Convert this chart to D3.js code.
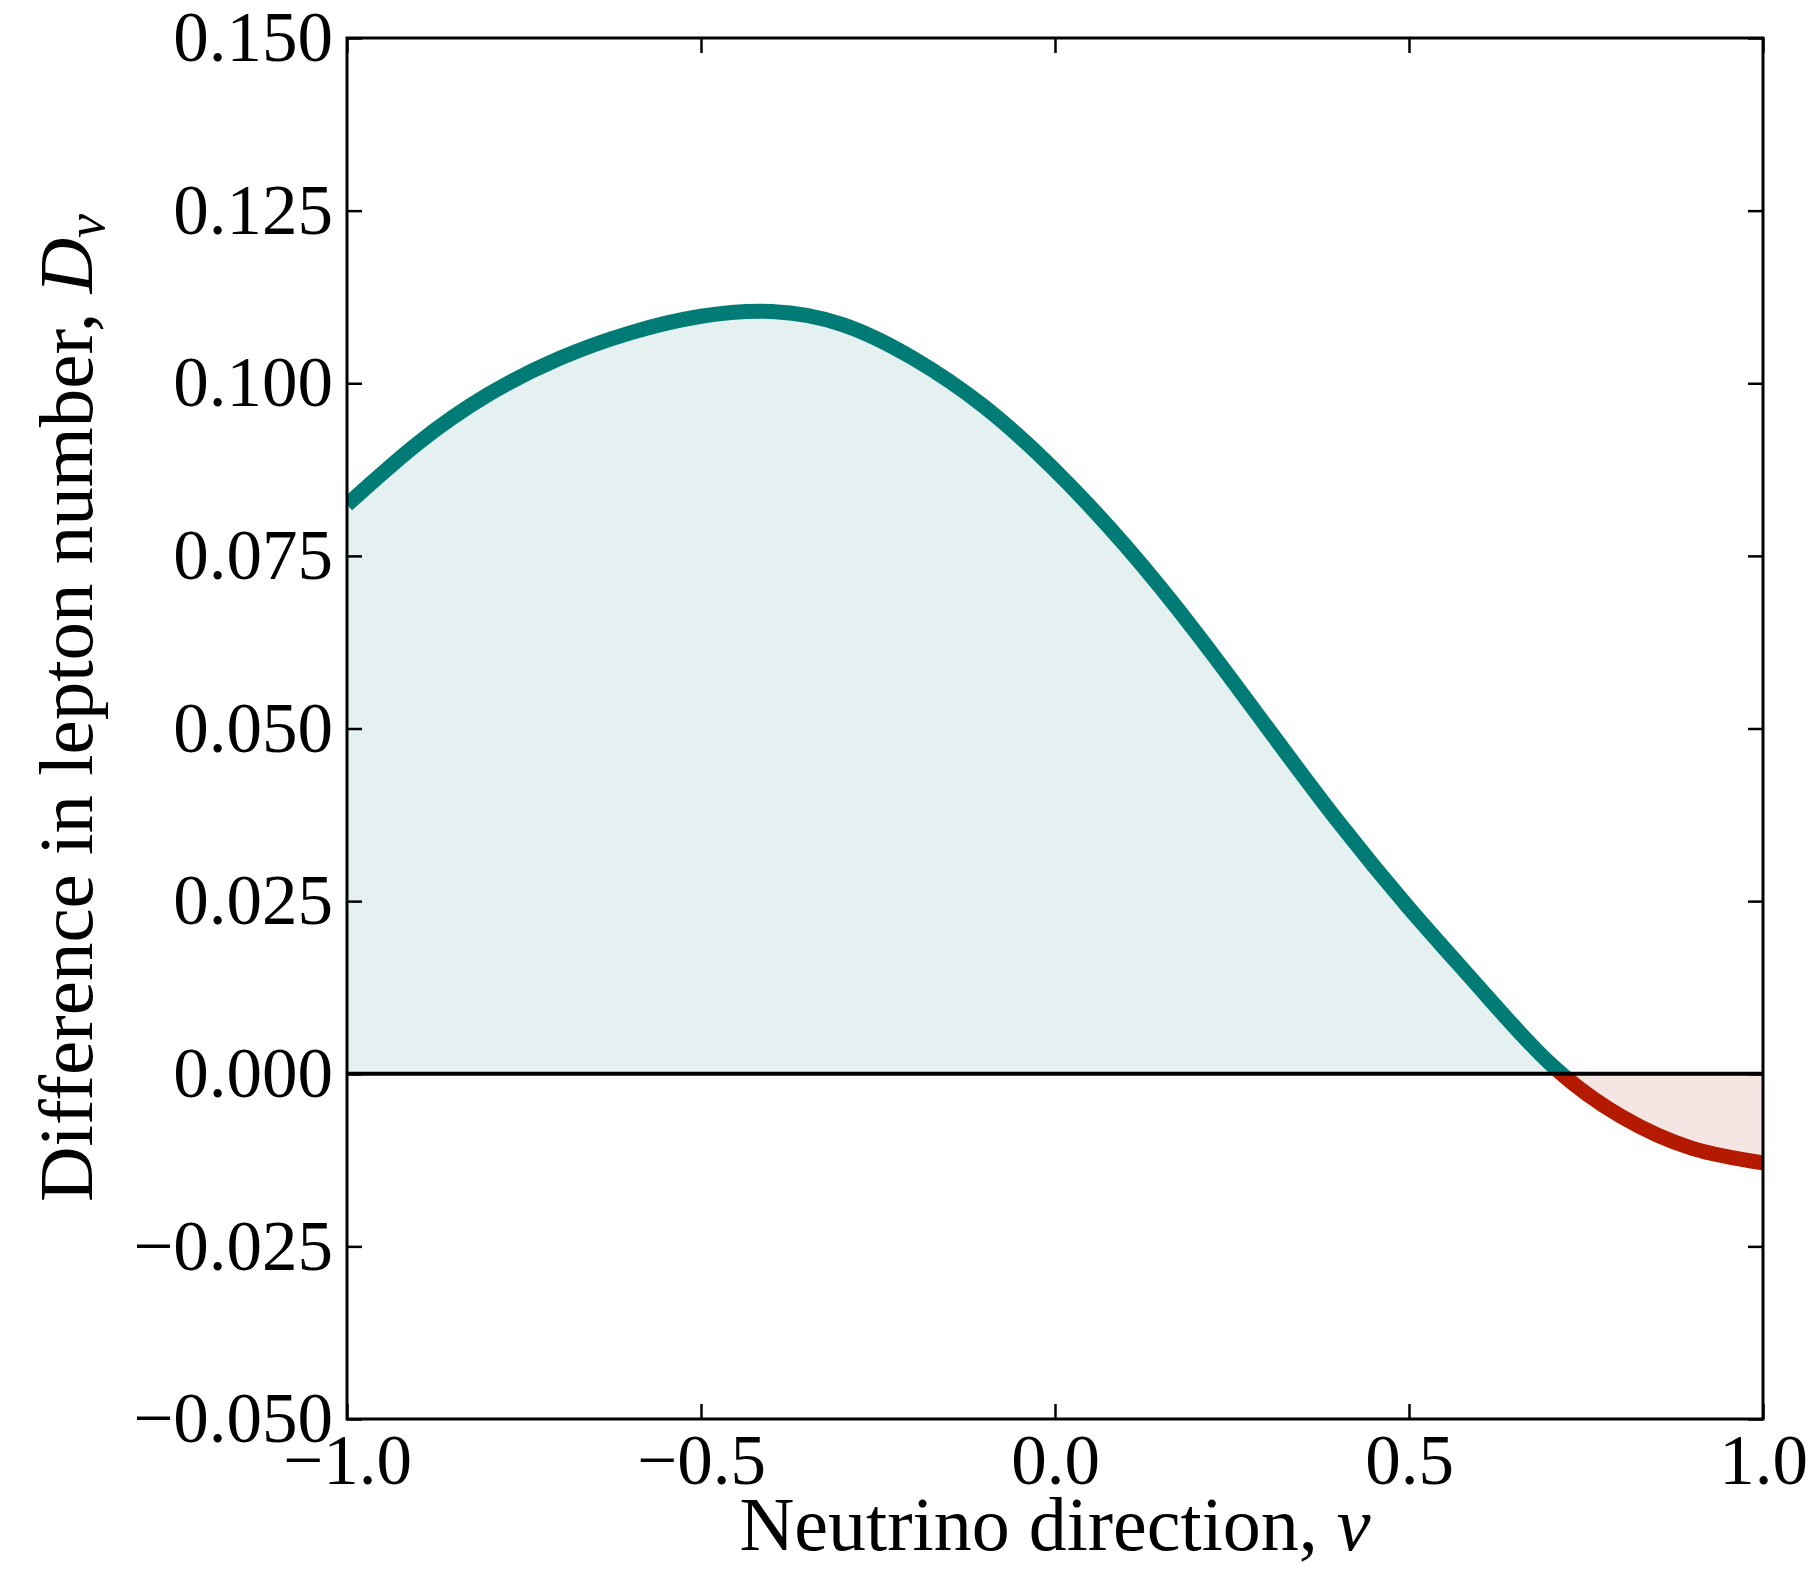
<!DOCTYPE html>
<html>
<head>
<meta charset="utf-8">
<script src="https://cdn.jsdelivr.net/npm/d3@7"></script>
<style>
  body { margin: 0; background: #fff; }
  svg text { font-family: "Liberation Serif", "DejaVu Serif", serif; fill: #000; }
</style>
</head>
<body>
<svg id="chart"></svg>
<script>
// values
const direction = [-1.0, -0.9, -0.8, -0.7, -0.6, -0.5, -0.4, -0.3, -0.2, -0.1, 0.0,
                   0.1, 0.2, 0.3, 0.4, 0.5, 0.6, 0.7, 0.8, 0.9, 1.0];
const diffLepton = [0.0824, 0.0913, 0.0984, 0.1036, 0.1073, 0.1097, 0.1104, 0.1085, 0.1036, 0.0966, 0.0874,
                    0.0764, 0.0638, 0.0501, 0.0365, 0.0240, 0.0124, 0.0014, -0.0062, -0.0108, -0.0129];
const xTicks = [-1.0, -0.5, 0.0, 0.5, 1.0];
const yTicks = [-0.05, -0.025, 0, 0.025, 0.05, 0.075, 0.1, 0.125, 0.15];

const width = 1819, height = 1580;
const margin = {top: 38, right: 56, bottom: 161, left: 347};
const innerW = width - margin.left - margin.right;
const innerH = height - margin.top - margin.bottom;
const fontSize = 71;

const svg = d3.select("#chart")
  .attr("width", width)
  .attr("height", height);

const g = svg.append("g")
  .attr("transform", "translate(" + margin.left + "," + margin.top + ")");

const x = d3.scaleLinear().domain([-1, 1]).range([0, innerW]);
const y = d3.scaleLinear().domain([-0.05, 0.15]).range([innerH, 0]);

const data = direction.map((d, i) => ({u: d, v: diffLepton[i]}));

const defs = svg.append("defs");
defs.append("clipPath").attr("id", "clipAll")
  .append("rect").attr("width", innerW).attr("height", innerH);
// above zero / below zero regions
defs.append("clipPath").attr("id", "clipPos")
  .append("rect").attr("x", 0).attr("y", 0).attr("width", innerW).attr("height", y(0));
defs.append("clipPath").attr("id", "clipNeg")
  .append("rect").attr("x", 0).attr("y", y(0)).attr("width", innerW).attr("height", innerH - y(0));

const curve = d3.curveNatural;

const area = d3.area()
  .x(d => x(d.u))
  .y0(y(0))
  .y1(d => y(d.v))
  .curve(curve);

const line = d3.line()
  .x(d => x(d.u))
  .y(d => y(d.v))
  .curve(curve);

const plot = g.append("g").attr("clip-path", "url(#clipAll)");

// fills
plot.append("g").attr("clip-path", "url(#clipPos)")
  .append("path").datum(data)
  .attr("d", area)
  .attr("fill", "#e4f1f0");
plot.append("g").attr("clip-path", "url(#clipNeg)")
  .append("path").datum(data)
  .attr("d", area)
  .attr("fill", "#f6e6e3");

// curve, teal above zero and red below
plot.append("g").attr("clip-path", "url(#clipPos)")
  .append("path").datum(data)
  .attr("d", line)
  .attr("fill", "none")
  .attr("stroke", "#007b75")
  .attr("stroke-width", 15);
plot.append("g").attr("clip-path", "url(#clipNeg)")
  .append("path").datum(data)
  .attr("d", line)
  .attr("fill", "none")
  .attr("stroke", "#b31a00")
  .attr("stroke-width", 15);

// zero line
g.append("line")
  .attr("x1", 0).attr("x2", innerW)
  .attr("y1", y(0)).attr("y2", y(0))
  .attr("stroke", "#000")
  .attr("stroke-width", 4);

// axes, ticks pointing inward
function styleAxis(sel) {
  sel.select(".domain").remove();
  sel.selectAll(".tick line").attr("stroke", "#000").attr("stroke-width", 2.5);
  sel.selectAll("text").attr("font-size", fontSize)
    .attr("font-family", "Liberation Serif, DejaVu Serif, serif");
  sel.attr("font-family", null).attr("font-size", null);
}

g.append("g")
  .attr("transform", "translate(0," + innerH + ")")
  .call(d3.axisBottom(x).tickValues(xTicks).tickFormat(d3.format(".1f"))
    .tickSize(-15).tickSizeOuter(0).tickPadding(15))
  .call(styleAxis);

g.append("g")
  .call(d3.axisLeft(y).tickValues(yTicks).tickFormat(d3.format(".3f"))
    .tickSize(-15).tickSizeOuter(0).tickPadding(14))
  .call(styleAxis);

g.append("g")
  .call(d3.axisTop(x).tickValues(xTicks).tickFormat("")
    .tickSize(-15).tickSizeOuter(0))
  .call(styleAxis);

g.append("g")
  .attr("transform", "translate(" + innerW + ",0)")
  .call(d3.axisRight(y).tickValues(yTicks).tickFormat("")
    .tickSize(-15).tickSizeOuter(0))
  .call(styleAxis);

// frame
g.append("rect")
  .attr("width", innerW).attr("height", innerH)
  .attr("fill", "none")
  .attr("stroke", "#000")
  .attr("stroke-width", 3);

// axis labels
const xLabel = svg.append("text")
  .attr("x", margin.left + innerW / 2)
  .attr("y", 1550)
  .attr("text-anchor", "middle")
  .attr("font-size", 76);
xLabel.append("tspan").text("Neutrino direction, ");
xLabel.append("tspan").attr("font-style", "italic").text("v");

const yLabel = svg.append("text")
  .attr("transform", "translate(92,708) rotate(-90)")
  .attr("text-anchor", "middle")
  .attr("font-size", 77);
yLabel.append("tspan").text("Difference in lepton number, ");
yLabel.append("tspan").attr("font-style", "italic").text("D");
yLabel.append("tspan").attr("font-style", "italic")
  .attr("font-size", 77 * 0.7).attr("dy", 12).text("v");
</script>
</body>
</html>
